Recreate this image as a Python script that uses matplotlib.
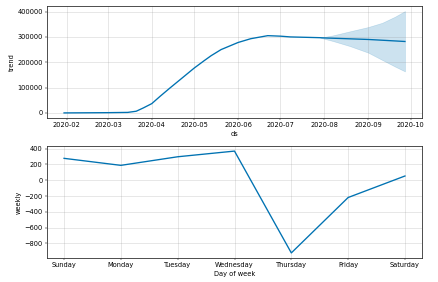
import matplotlib
matplotlib.use("Agg")
import matplotlib.pyplot as plt
import matplotlib.dates as mdates
import pandas as pd

# Trend component (key points)
trend_dates = ["2020-01-30", "2020-02-15", "2020-03-01", "2020-03-15", "2020-03-21",
               "2020-03-26", "2020-04-01", "2020-04-07", "2020-04-14", "2020-04-21",
               "2020-05-01", "2020-05-08", "2020-05-13", "2020-05-20", "2020-06-01",
               "2020-06-10", "2020-06-22", "2020-07-01", "2020-07-08", "2020-07-29",
               "2020-08-01", "2020-09-01", "2020-09-27"]
trend_values = [0, 500, 1000, 2000, 6600,
                19500, 36600, 66000, 99000, 131000,
                177000, 206000, 226000, 250000, 278000,
                293000, 305000, 303000, 300000, 297000,
                296000, 290000, 282000]

# Uncertainty band over the forecast period
band_dates = ["2020-07-29", "2020-08-07", "2020-08-19", "2020-09-01", "2020-09-11",
              "2020-09-20", "2020-09-27"]
band_upper = [297000, 306000, 322000, 339000, 356000, 380000, 402000]
band_lower = [297000, 284000, 264000, 238000, 209000, 183000, 164000]

# Weekly component
weekdays = ["Sunday", "Monday", "Tuesday", "Wednesday", "Thursday", "Friday", "Saturday"]
weekly_values = [278, 189, 298, 370, -922, -219, 54]

plt.rcParams["font.size"] = 11
plt.rcParams["axes.linewidth"] = 1.4
plt.rcParams["axes.edgecolor"] = "#333333"

color = "#0072B2"
dpi = 43.8
fig = plt.figure(figsize=(438 / dpi, 282 / dpi), dpi=dpi)
W, H = 438, 282
ax1 = fig.add_axes([47 / W, 1 - 118 / H, 375 / W, 112 / H])
ax2 = fig.add_axes([47 / W, 1 - 258 / H, 375 / W, 112 / H])

td = pd.to_datetime(trend_dates)
bd = pd.to_datetime(band_dates)
ax1.plot(td, trend_values, ls="-", c=color, lw=2.2)
ax1.fill_between(bd, band_lower, band_upper, color=color, alpha=0.2)
ax1.xaxis.set_major_locator(mdates.MonthLocator())
ax1.xaxis.set_major_formatter(mdates.DateFormatter("%Y-%m"))
ax1.grid(True, which="major", c="gray", ls="-", lw=1.5, alpha=0.2)
ax1.set_xlabel("ds")
ax1.set_ylabel("trend")
ax1.set_yticks([0, 100000, 200000, 300000, 400000])

x = list(range(len(weekdays)))
ax2.plot(x, weekly_values, ls="-", c=color, lw=2.2)
ax2.set_xticks(x)
ax2.set_xticklabels(weekdays)
ax2.grid(True, which="major", c="gray", ls="-", lw=1.5, alpha=0.2)
ax2.set_xlabel("Day of week")
ax2.set_ylabel("weekly")
ax2.set_yticks([-800, -600, -400, -200, 0, 200, 400])

fig.savefig("out.png", dpi=dpi)
